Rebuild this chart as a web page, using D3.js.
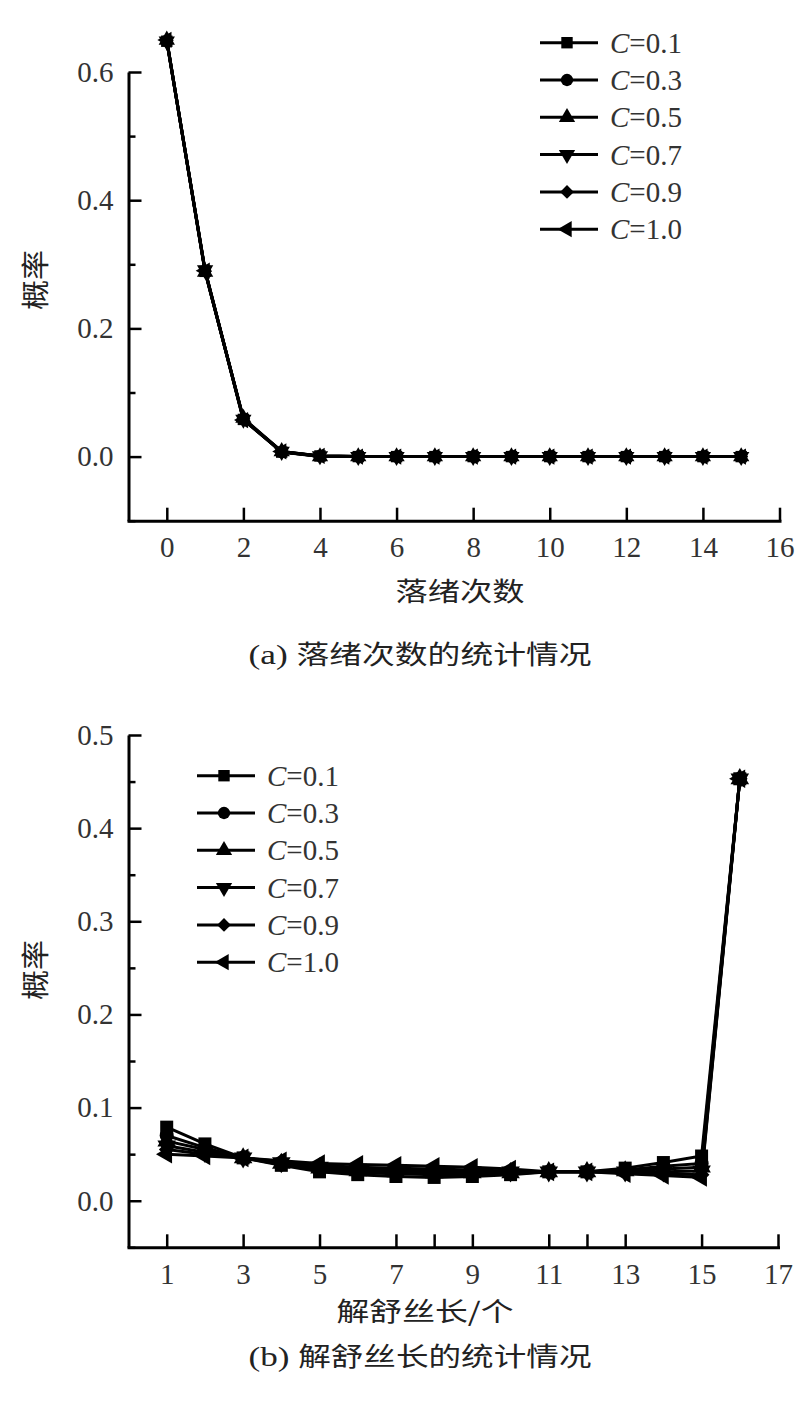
<!DOCTYPE html>
<html>
<head>
<meta charset="utf-8">
<script src="https://cdn.jsdelivr.net/npm/d3@7"></script>
<style>
  body { margin: 0; background: #fff; }
  svg { display: block; }
  .tick text { font-family: "Liberation Serif", "Times New Roman", serif; font-size: 29px; fill: #333; }
  .cjk { font-family: "Noto Sans CJK SC", sans-serif; fill: #222; }
</style>
</head>
<body>
<script>
// ---- data: top panel (falling-end count) ----
const topCounts = [0, 1, 2, 3, 4, 5, 6, 7, 8, 9, 10, 11, 12, 13, 14, 15];
const topC01 = [0.648, 0.289, 0.058, 0.007, 0.001, 0, 0, 0, 0, 0, 0, 0, 0, 0, 0, 0];
const topC03 = [0.649, 0.290, 0.059, 0.007, 0.001, 0, 0, 0, 0, 0, 0, 0, 0, 0, 0, 0];
const topC05 = [0.650, 0.288, 0.060, 0.008, 0.000, 0, 0, 0, 0, 0, 0, 0, 0, 0, 0, 0];
const topC07 = [0.648, 0.291, 0.058, 0.008, 0.001, 0, 0, 0, 0, 0, 0, 0, 0, 0, 0, 0];
const topC09 = [0.649, 0.289, 0.059, 0.007, 0.000, 0, 0, 0, 0, 0, 0, 0, 0, 0, 0, 0];
const topC10 = [0.650, 0.290, 0.057, 0.008, 0.001, 0, 0, 0, 0, 0, 0, 0, 0, 0, 0, 0];
const topXTicks = [0, 2, 4, 6, 8, 10, 12, 14, 16];
const topYTicks = [0.0, 0.2, 0.4, 0.6];
const topYMinor = [-0.1, 0.1, 0.3, 0.5];

// ---- data: bottom panel (unwinding length) ----
const botLengths = [1, 2, 3, 4, 5, 6, 7, 8, 9, 10, 11, 12, 13, 14, 15, 16];
const botC01 = [0.079, 0.061, 0.046, 0.038, 0.031, 0.028, 0.026, 0.025, 0.026, 0.028, 0.031, 0.031, 0.035, 0.041, 0.048, 0.453];
const botC03 = [0.070, 0.057, 0.046, 0.039, 0.033, 0.030, 0.029, 0.028, 0.028, 0.029, 0.031, 0.031, 0.033, 0.037, 0.040, 0.453];
const botC05 = [0.064, 0.055, 0.046, 0.040, 0.035, 0.032, 0.031, 0.030, 0.030, 0.030, 0.031, 0.031, 0.032, 0.034, 0.036, 0.453];
const botC07 = [0.059, 0.052, 0.046, 0.041, 0.036, 0.034, 0.033, 0.032, 0.031, 0.031, 0.031, 0.031, 0.031, 0.031, 0.032, 0.453];
const botC09 = [0.055, 0.050, 0.046, 0.042, 0.038, 0.036, 0.035, 0.034, 0.033, 0.032, 0.031, 0.031, 0.030, 0.029, 0.028, 0.453];
const botC10 = [0.050, 0.048, 0.046, 0.043, 0.040, 0.039, 0.038, 0.037, 0.036, 0.034, 0.031, 0.031, 0.029, 0.027, 0.025, 0.453];
const botXTicks = [1, 3, 5, 7, 8, 9, 11, 12, 13, 15, 17];
const botXLabels = [1, 3, 5, 7, 9, 11, 13, 15, 17];
const botYTicks = [0.0, 0.1, 0.2, 0.3, 0.4, 0.5];
const botYMinor = [-0.05, 0.05, 0.15, 0.25, 0.35, 0.45];

const seriesNames = ["0.1", "0.3", "0.5", "0.7", "0.9", "1.0"];
const markerKinds = ["square", "circle", "up", "down", "diamond", "left"];

const width = 800;
const height = 1402;

const svg = d3.select("body").append("svg")
    .attr("width", width)
    .attr("height", height);

function markerPath(kind, k) {
    if (kind === "square") return { d: d3.symbol(d3.symbolSquare, 130 * k)(), rot: 0 };
    if (kind === "circle") return { d: d3.symbol(d3.symbolCircle, 120 * k)(), rot: 0 };
    if (kind === "up") return { d: d3.symbol(d3.symbolTriangle, 115 * k)(), rot: 0 };
    if (kind === "down") return { d: d3.symbol(d3.symbolTriangle, 115 * k)(), rot: 180 };
    if (kind === "diamond") return { d: d3.symbol(d3.symbolSquare, 95 * k)(), rot: 45 };
    return { d: d3.symbol(d3.symbolTriangle, 115 * k)(), rot: -90 };
}

function drawPanel(cfg) {
    const x = d3.scaleLinear().domain(cfg.xDomain).range(cfg.xRange);
    const y = d3.scaleLinear().domain(cfg.yDomain).range(cfg.yRange);
    const g = svg.append("g");

    // minor y ticks
    g.append("g")
        .attr("transform", `translate(${cfg.xRange[0]},0)`)
        .call(d3.axisLeft(y).tickValues(cfg.yMinor).tickSize(-7).tickFormat(""))
        .call(a => a.select(".domain").remove())
        .call(a => a.selectAll("line").attr("stroke", "#000").attr("stroke-width", 2.5));

    // y axis
    g.append("g")
        .attr("transform", `translate(${cfg.xRange[0]},0)`)
        .call(d3.axisLeft(y).tickValues(cfg.yTicks).tickSize(-13).tickSizeOuter(0)
            .tickPadding(15).tickFormat(d3.format(".1f")))
        .call(a => a.select(".domain").attr("stroke", "#000").attr("stroke-width", 3))
        .call(a => a.selectAll("line").attr("stroke", "#000").attr("stroke-width", 2.5));

    // x axis
    g.append("g")
        .attr("transform", `translate(0,${cfg.yRange[0]})`)
        .call(d3.axisBottom(x).tickValues(cfg.xTicks).tickSize(-13).tickSizeOuter(0)
            .tickPadding(16).tickFormat(d => cfg.xLabels.includes(d) ? d : ""))
        .call(a => a.select(".domain").attr("stroke", "#000").attr("stroke-width", 3)
            .attr("stroke-linecap", "square"))
        .call(a => a.selectAll("line").attr("stroke", "#000").attr("stroke-width", 2.5));

    // lines + markers
    const line = d3.line().x(d => x(d[0])).y(d => y(d[1]));
    cfg.series.forEach((vals, i) => {
        const pts = cfg.xs.map((xv, j) => [xv, vals[j]]);
        g.append("path")
            .datum(pts)
            .attr("fill", "none")
            .attr("stroke", "#000")
            .attr("stroke-width", 3)
            .attr("d", line);
        const m = markerPath(markerKinds[i], cfg.markerScale);
        g.selectAll(null)
            .data(pts)
            .enter()
            .append("path")
            .attr("d", m.d)
            .attr("fill", "#000")
            .attr("transform", d => `translate(${x(d[0])},${y(d[1])}) rotate(${m.rot})`);
    });

    // legend
    const lg = g.append("g");
    seriesNames.forEach((name, i) => {
        const ry = cfg.legendY + i * 37.3;
        lg.append("line")
            .attr("x1", cfg.legendX).attr("x2", cfg.legendX + 58)
            .attr("y1", ry).attr("y2", ry)
            .attr("stroke", "#000").attr("stroke-width", 3);
        const m = markerPath(markerKinds[i], 1);
        lg.append("path")
            .attr("d", m.d)
            .attr("fill", "#000")
            .attr("transform", `translate(${cfg.legendX + 27},${ry}) rotate(${m.rot})`);
        const t = lg.append("text")
            .attr("x", cfg.legendX + 70)
            .attr("y", ry + 10)
            .attr("font-family", "Liberation Serif, Times New Roman, serif")
            .attr("font-size", 29)
            .attr("fill", "#333");
        t.append("tspan").attr("font-style", "italic").text("C");
        t.append("tspan").text("=" + name);
    });

    // y title
    g.append("text")
        .attr("class", "cjk")
        .attr("transform", `translate(${cfg.yTitlePos[0]},${cfg.yTitlePos[1]}) rotate(-90)`)
        .attr("text-anchor", "middle")
        .attr("dy", "0.35em")
        .attr("font-size", 28)
        .attr("textLength", 60)
        .attr("lengthAdjust", "spacingAndGlyphs")
        .text("概率");

    // x title
    g.append("text")
        .attr("class", "cjk")
        .attr("x", cfg.xTitlePos[0])
        .attr("y", cfg.xTitlePos[1])
        .attr("text-anchor", "middle")
        .attr("dy", "0.35em")
        .attr("font-size", 26)
        .attr("textLength", cfg.xTitleLen)
        .attr("lengthAdjust", "spacingAndGlyphs")
        .text(cfg.xTitle);

    // caption
    const cap = g.append("text")
        .attr("class", "cjk")
        .attr("x", cfg.capPos[0])
        .attr("y", cfg.capPos[1])
        .attr("text-anchor", "middle")
        .attr("dy", "0.35em")
        .attr("font-size", 26)
        .attr("textLength", 343)
        .attr("lengthAdjust", "spacingAndGlyphs");
    cap.append("tspan").attr("font-family", "Liberation Serif, Times New Roman, serif")
        .attr("font-size", 28).text(cfg.capTag + " ");
    cap.append("tspan").text(cfg.capText);
}

drawPanel({
    xDomain: [-1, 16], xRange: [128.5, 779.5],
    yDomain: [-0.1, 0.6], yRange: [520.7, 72],
    xTicks: topXTicks, xLabels: topXTicks,
    yTicks: topYTicks, yMinor: topYMinor,
    xs: topCounts,
    series: [topC01, topC03, topC05, topC07, topC09, topC10],
    markerScale: 1,
    legendX: 540, legendY: 42.7,
    yTitlePos: [36, 280],
    xTitle: "落绪次数", xTitlePos: [460, 592], xTitleLen: 129,
    capTag: "(a)", capText: "落绪次数的统计情况", capPos: [420, 655]
});

drawPanel({
    xDomain: [0, 17], xRange: [128.5, 778],
    yDomain: [-0.05, 0.5], yRange: [1247.3, 735],
    xTicks: botXTicks, xLabels: botXLabels,
    yTicks: botYTicks, yMinor: botYMinor,
    xs: botLengths,
    series: [botC01, botC03, botC05, botC07, botC09, botC10],
    markerScale: 1.3,
    legendX: 197, legendY: 775.7,
    yTitlePos: [36, 970],
    xTitle: "解舒丝长/个", xTitlePos: [425, 1312], xTitleLen: 177,
    capTag: "(b)", capText: "解舒丝长的统计情况", capPos: [420, 1357]
});
</script>
</body>
</html>
